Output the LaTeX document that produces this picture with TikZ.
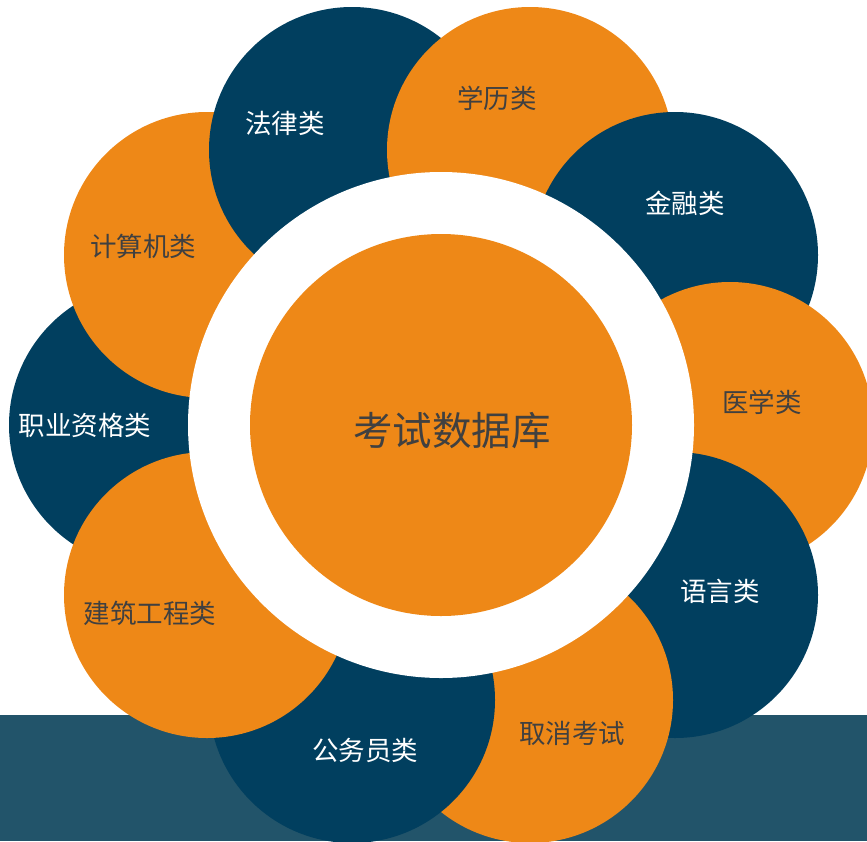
\documentclass[tikz,border=0pt]{standalone}
\usepackage{fontspec}
\setmainfont{Noto Sans CJK SC}
\definecolor{dk}{HTML}{013F5F}
\definecolor{og}{HTML}{EE8817}
\definecolor{band}{HTML}{22546A}
\definecolor{txg}{HTML}{404040}
\begin{document}
\begin{tikzpicture}[x=1pt,y=-1pt,
  bub/.style={circle,inner sep=0pt,outer sep=0pt,minimum size=286pt,fill=#1},
  lbld/.style={text=white,font=\fontsize{26.5}{26.5}\selectfont,inner sep=0pt},
  lblo/.style={text=txg,font=\fontsize{26.5}{26.5}\selectfont,inner sep=0pt}]
\useasboundingbox (0,0) rectangle (867,841);
\clip (0,0) rectangle (867,841);
\fill[band] (0,715) rectangle (867,841);
% outer bubbles, bottom to top
\node[bub=dk] (c9) at (152,425) {};
\node[bub=og] (c10) at (207,255) {};
\node[bub=dk] (c1) at (352,150) {};
\node[bub=og] (c2) at (530,150) {};
\node[bub=dk] (c3) at (675,255) {};
\node[bub=og] (c4) at (730,425) {};
\node[bub=dk] (c5) at (675,595) {};
\node[bub=og] (c6) at (530,700) {};
\node[bub=dk] (c7) at (352,700) {};
\node[bub=og] (c8) at (207,595) {};
% ring and centre
\node[circle,fill=white,inner sep=0pt,minimum size=506pt] (ring) at (441,425) {};
\node[circle,fill=og,inner sep=0pt,minimum size=382pt] (core) at (441,425) {};
\node[text=txg,font=\fontsize{39.5}{39.5}\selectfont,inner sep=0pt] (ct) at (452,431) {考试数据库};
% labels
\node[lbld] (t1) at (285,123) {法律类};
\node[lblo] (t2) at (497,98) {学历类};
\node[lbld] (t3) at (685,203) {金融类};
\node[lblo] (t4) at (762,402) {医学类};
\node[lbld] (t5) at (720,591) {语言类};
\node[lblo] (t6) at (572,733) {取消考试};
\node[lbld] (t7) at (365,750) {公务员类};
\node[lblo] (t8) at (150,613) {建筑工程类};
\node[lbld] (t9) at (85,425) {职业资格类};
\node[lblo] (t10) at (143,246) {计算机类};
\end{tikzpicture}
\end{document}
